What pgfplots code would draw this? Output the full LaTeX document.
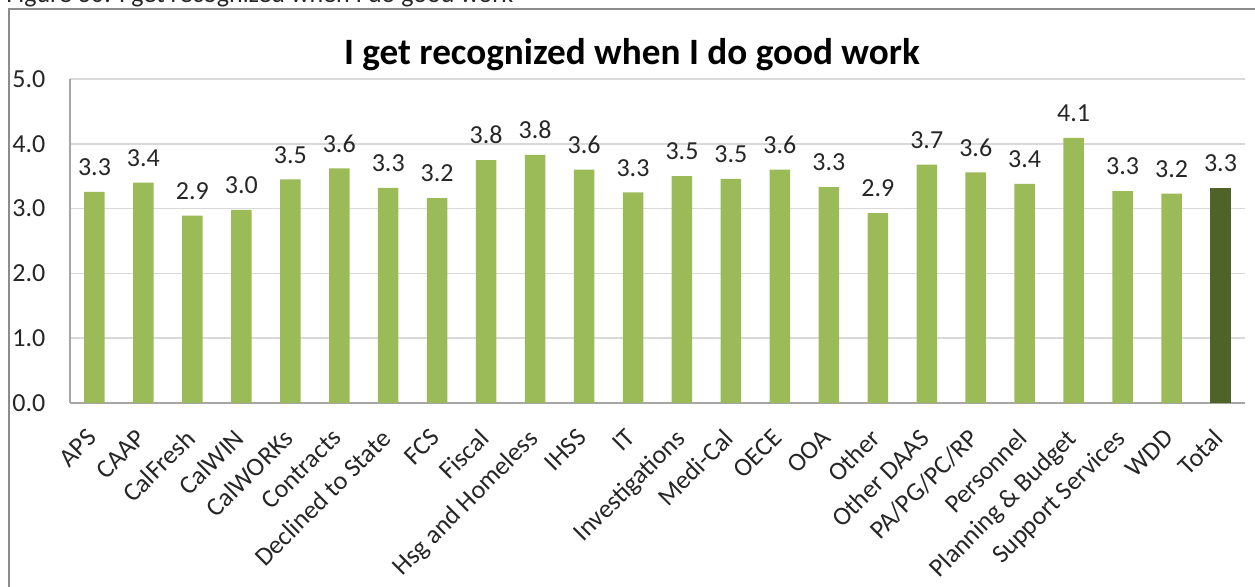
\documentclass[border=0pt]{standalone}
\usepackage{fontspec}
\setmainfont{Carlito}
\usepackage{pgfplots}
\usepackage{pgfplotstable}
\pgfplotsset{compat=1.18}

\definecolor{barlight}{HTML}{9BBB59}
\definecolor{bardark}{HTML}{4F6228}
\definecolor{gridgray}{HTML}{D9D9D9}
\definecolor{axgray}{HTML}{A6A6A6}
\definecolor{framegray}{HTML}{8C8C8C}
\definecolor{txt}{HTML}{262626}

% index, mean score, shown label
\pgfplotstableread{
x y lab
0 3.26 3.3
1 3.40 3.4
2 2.89 2.9
3 2.98 3.0
4 3.45 3.5
5 3.62 3.6
6 3.32 3.3
7 3.16 3.2
8 3.75 3.8
9 3.83 3.8
10 3.60 3.6
11 3.25 3.3
12 3.50 3.5
13 3.46 3.5
14 3.60 3.6
15 3.33 3.3
16 2.93 2.9
17 3.68 3.7
18 3.56 3.6
19 3.38 3.4
20 4.09 4.1
21 3.27 3.3
22 3.23 3.2
}\depts
\pgfplotstableread{
x y lab
23 3.32 3.3
}\total

\begin{document}
\begin{tikzpicture}
\useasboundingbox (0pt,0pt) rectangle (627.5pt,-293.5pt);
\clip (0pt,0pt) rectangle (627.5pt,-293.5pt);
% caption line cut off at the top of the page
\node[anchor=base west, inner sep=0pt, text=txt, font=\fontsize{13}{15}\selectfont]
  at (3pt,-1.5pt) {Figure 30: I get recognized when I do good work};
\draw[framegray, line width=1pt] (4.25pt,-310pt) -- (4.25pt,-4.75pt) -- (640pt,-4.75pt);
\node[font=\fontsize{18.6}{22}\selectfont\bfseries, text=black] at (316pt,-27.5pt)
  {I get recognized when I do good work};
\begin{axis}[
  scale only axis,
  width=587.5pt, height=162pt,
  at={(35pt,-201.5pt)}, anchor=south west,
  xmin=-0.5, xmax=23.5,
  ymin=0, ymax=5,
  ytick={0,1,2,3,4,5},
  xtick={0,...,23},
  xticklabels={APS,CAAP,CalFresh,CalWIN,CalWORKs,Contracts,Declined to State,FCS,Fiscal,Hsg and Homeless,IHSS,IT,Investigations,Medi-Cal,OECE,OOA,Other,Other DAAS,PA/PG/PC/RP,Personnel,Planning \& Budget,Support Services,WDD,Total},
  axis x line*=bottom, axis y line*=left,
  axis line style={axgray, line width=0.8pt},
  every outer x axis line/.append style={-}, every outer y axis line/.append style={-},
  ymajorgrids, grid style={gridgray, line width=0.8pt},
  major tick length=0pt,
  /pgf/number format/.cd, fixed, fixed zerofill, precision=1, assume math mode=true,
  /pgfplots/.cd,
  tick label style={text=txt, font=\fontsize{13}{15}\selectfont},
  yticklabel style={anchor=west, inner sep=0pt, xshift=-29pt},
  xticklabel style={rotate=45, anchor=north east, inner sep=1pt, xshift=-10.5pt, yshift=-4.5pt},
  ybar, bar width=10.25pt, bar shift=0pt,
  nodes near coords,
  point meta=explicit symbolic,
  every node near coord/.append style={text=txt, font=\fontsize{13}{15}\selectfont, yshift=4.5pt},
  clip=false,
]
\addplot[fill=barlight, draw=none] table[x=x, y=y, meta=lab] {\depts};
\addplot[fill=bardark, draw=none] table[x=x, y=y, meta=lab] {\total};
\end{axis}
\end{tikzpicture}
\end{document}
